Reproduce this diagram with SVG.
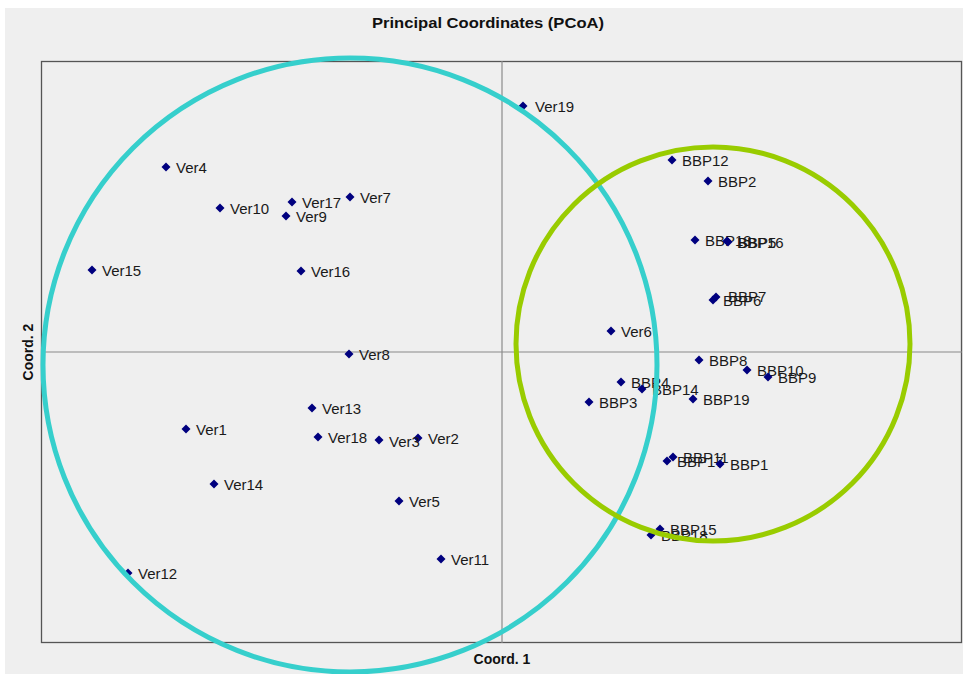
<svg xmlns="http://www.w3.org/2000/svg" width="963" height="674" viewBox="0 0 963 674">
<style>
.t{font-family:"Liberation Sans",Arial,sans-serif;font-size:15px;fill:#1a1a1a}
.b{font-family:"Liberation Sans",Arial,sans-serif;font-weight:bold;font-size:14px;fill:#111}
.ax{stroke:#8a8a8a;stroke-width:1.2;fill:none}
</style>
<defs>
<path id="d" d="M0,-4.5 L4.5,0 L0,4.5 L-4.5,0 Z" fill="#00007f"/>
</defs>
<rect x="0" y="0" width="963" height="674" fill="#fff"/>
<rect x="5" y="8" width="958" height="666" fill="#efefef"/>
<text class="b" x="488" y="28" text-anchor="middle" textLength="232" lengthAdjust="spacingAndGlyphs">Principal Coordinates (PCoA)</text>
<g id="frame">
<rect x="41.5" y="61.5" width="920" height="581" fill="none" stroke="#555" stroke-width="1.3"/>
<line class="ax" x1="502" y1="61" x2="502" y2="643"/>
<line class="ax" x1="41" y1="352" x2="962" y2="352"/>
</g>
<text class="b" x="502" y="664" text-anchor="middle">Coord. 1</text>
<text class="b" x="0" y="0" text-anchor="middle" transform="translate(33,352) rotate(-90)">Coord. 2</text>
<g id="ver">
<g id="Ver19"><use href="#d" x="523" y="106"/><text class="t" x="535" y="112">Ver19</text></g>
<g id="Ver4"><use href="#d" x="166" y="167"/><text class="t" x="176" y="173">Ver4</text></g>
<g id="Ver10"><use href="#d" x="220" y="208"/><text class="t" x="230" y="214">Ver10</text></g>
<g id="Ver17"><use href="#d" x="292" y="202"/><text class="t" x="302" y="208">Ver17</text></g>
<g id="Ver9"><use href="#d" x="286" y="216"/><text class="t" x="296" y="222">Ver9</text></g>
<g id="Ver7"><use href="#d" x="350" y="197"/><text class="t" x="360" y="203">Ver7</text></g>
<g id="Ver15"><use href="#d" x="92" y="270"/><text class="t" x="102" y="276">Ver15</text></g>
<g id="Ver16"><use href="#d" x="301" y="271"/><text class="t" x="311" y="277">Ver16</text></g>
<g id="Ver6"><use href="#d" x="611" y="331"/><text class="t" x="621" y="337">Ver6</text></g>
<g id="Ver8"><use href="#d" x="349" y="354"/><text class="t" x="359" y="360">Ver8</text></g>
<g id="Ver13"><use href="#d" x="312" y="408"/><text class="t" x="322" y="414">Ver13</text></g>
<g id="Ver1"><use href="#d" x="186" y="429"/><text class="t" x="196" y="435">Ver1</text></g>
<g id="Ver18"><use href="#d" x="318" y="437"/><text class="t" x="328" y="443">Ver18</text></g>
<g id="Ver2"><use href="#d" x="418" y="438"/><text class="t" x="428" y="444">Ver2</text></g>
<g id="Ver3"><use href="#d" x="379" y="440"/><text class="t" x="389" y="447">Ver3</text></g>
<g id="Ver14"><use href="#d" x="214" y="484"/><text class="t" x="224" y="490">Ver14</text></g>
<g id="Ver5"><use href="#d" x="399" y="501"/><text class="t" x="409" y="507">Ver5</text></g>
<g id="Ver11"><use href="#d" x="441" y="559"/><text class="t" x="451" y="565">Ver11</text></g>
<g id="Ver12"><use href="#d" x="128" y="573"/><text class="t" x="138" y="579">Ver12</text></g>
</g>
<g id="bbp">
<g id="BBP12"><use href="#d" x="672" y="160"/><text class="t" x="682" y="166">BBP12</text></g>
<g id="BBP2"><use href="#d" x="708" y="181"/><text class="t" x="718" y="187">BBP2</text></g>
<g id="BBP13"><use href="#d" x="695" y="240"/><text class="t" x="705" y="246">BBP13</text></g>
<g id="BBP16"><use href="#d" x="727" y="241"/><text class="t" x="737" y="248">BBP16</text></g>
<g id="BBP5"><use href="#d" x="728" y="242"/><text class="t" x="738" y="248">BBP5</text></g>
<g id="BBP7"><use href="#d" x="716" y="297"/><text class="t" x="728" y="302">BBP7</text></g>
<g id="BBP6"><use href="#d" x="713" y="300"/><text class="t" x="723" y="306">BBP6</text></g>
<g id="BBP8"><use href="#d" x="699" y="360"/><text class="t" x="709" y="366">BBP8</text></g>
<g id="BBP10"><use href="#d" x="747" y="370"/><text class="t" x="757" y="376">BBP10</text></g>
<g id="BBP9"><use href="#d" x="768" y="377"/><text class="t" x="778" y="383">BBP9</text></g>
<g id="BBP4"><use href="#d" x="621" y="382"/><text class="t" x="631" y="388">BBP4</text></g>
<g id="BBP14"><use href="#d" x="642" y="389"/><text class="t" x="652" y="395">BBP14</text></g>
<g id="BBP3"><use href="#d" x="589" y="402"/><text class="t" x="599" y="408">BBP3</text></g>
<g id="BBP19"><use href="#d" x="693" y="399"/><text class="t" x="703" y="405">BBP19</text></g>
<g id="BBP11"><use href="#d" x="673" y="457"/><text class="t" x="683" y="463">BBP11</text></g>
<g id="BBP17"><use href="#d" x="667" y="461"/><text class="t" x="677" y="467">BBP17</text></g>
<g id="BBP1"><use href="#d" x="720" y="464"/><text class="t" x="730" y="470">BBP1</text></g>
<g id="BBP15"><use href="#d" x="660" y="529"/><text class="t" x="670" y="535">BBP15</text></g>
<g id="BBP18"><use href="#d" x="651" y="535"/><text class="t" x="661" y="541">BBP18</text></g>
</g>
<g id="groups" fill="none" stroke-width="5">
<circle id="verCircle" cx="350" cy="365" r="307" stroke="#36cfcc"/>
<circle id="bbpCircle" cx="713" cy="344" r="197" stroke="#99cc00"/>
</g>
</svg>
